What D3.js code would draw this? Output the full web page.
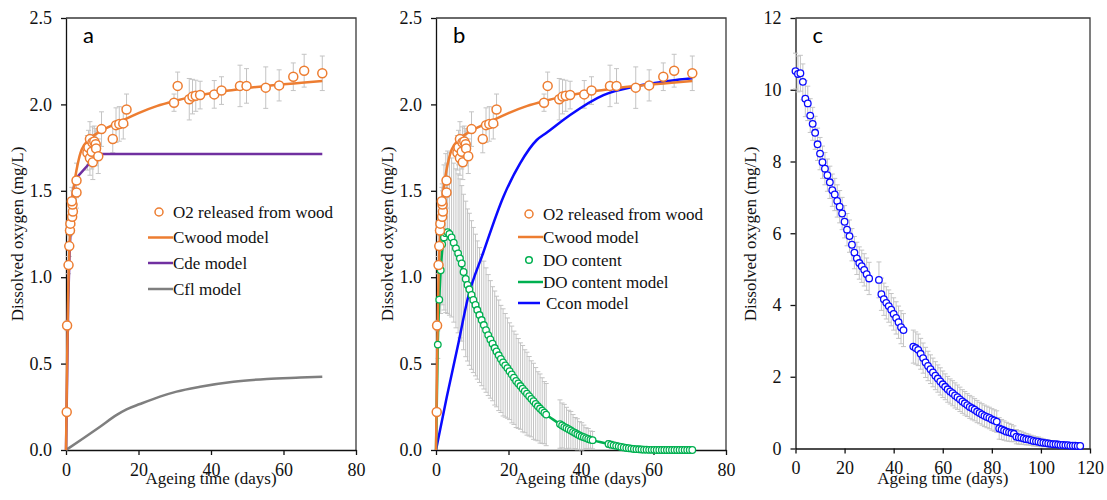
<!DOCTYPE html>
<html><head><meta charset="utf-8">
<script src="https://cdn.jsdelivr.net/npm/d3@7"></script>
<style>body{margin:0;background:#fff}svg{display:block;background:#fff}
.serif{font-family:"Liberation Serif","Times New Roman","DejaVu Serif",serif}
.sans{font-family:Lato,"Open Sans",sans-serif}</style>
</head><body><svg id="chart" width="1107" height="500"></svg>
<script>
// ---------- DATA ----------
// O2 released from wood: [day, mg/L, error]
const o2Released = [
 [0.2,0.22,0.0],[0.3,0.72,0.03],[0.7,1.07,0.05],[0.9,1.18,0.06],[1.1,1.27,0.07],[1.2,1.31,0.07],
 [1.7,1.35,0.08],[1.9,1.38,0.08],[1.8,1.42,0.08],[1.6,1.44,0.08],[2.9,1.49,0.09],[2.9,1.56,0.1],
 [5.9,1.72,0.1],[6.2,1.75,0.1],[6.6,1.80,0.1],[6.6,1.69,0.1],[7.1,1.726,0.1],[7.3,1.78,0.09],
 [7.4,1.665,0.1],[7.8,1.785,0.09],[8.2,1.77,0.09],[8.3,1.745,0.1],[8.9,1.70,0.1],[9.8,1.857,0.1],
 [12.9,1.80,0.08],[13.8,1.88,0.1],[14.7,1.887,0.1],[15.8,1.89,0.09],[16.7,1.97,0.09],
 [29.8,2.01,0.05],[30.8,2.107,0.08],[34.0,2.03,0.12],[34.9,2.045,0.1],[35.8,2.05,0.09],
 [37.0,2.054,0.08],[40.9,2.058,0.08],[42.9,2.08,0.08],[48.0,2.107,0.12],[49.8,2.107,0.1],
 [55.1,2.097,0.12],[58.8,2.11,0.09],[62.7,2.16,0.08],[65.7,2.195,0.095],[70.7,2.18,0.1]
];
const cwoodModel = [[0,0],[0.3,0.5],[0.6,0.9],[1,1.2],[1.5,1.38],[2,1.5],[3,1.63],[4,1.72],[5,1.765],
 [6,1.79],[8,1.825],[10,1.85],[15,1.9],[20,1.95],[25,1.99],[30,2.02],[35,2.045],[40,2.065],[45,2.08],
 [50,2.095],[55,2.107],[60,2.117],[65,2.125],[70.7,2.135]];
const cdeModel = [[0,0],[0.3,0.4],[0.6,0.85],[1,1.15],[1.5,1.38],[2,1.5],[2.7,1.57],[8.8,1.713],[70.7,1.713]];
const cflModel = [[0,0],[4.8,0.068],[9.4,0.135],[14,0.203],[16.7,0.235],[20.4,0.266],[25.9,0.309],
 [30.5,0.338],[37,0.366],[46.2,0.395],[55.4,0.411],[64.6,0.419],[70.7,0.424]];
// DO content: [day, mg/L, error]
const doContent = [
 [0.2,0.22,0.02],[0.5,0.61,0.08],[0.9,0.87,0.15],[1.3,1.04,0.25],[1.7,1.19,0.35],[2.2,1.23,0.42],
 [2.7,1.255,0.46],[3.2,1.26,0.47],[3.7,1.25,0.47],[4.3,1.23,0.46],[4.9,1.2,0.46],[5.5,1.167,0.46],
 [6.1,1.138,0.46],[6.6,1.109,0.46],[7.1,1.08,0.45],[7.6,1.03,0.45],[8.2,0.99,0.45],[8.7,0.955,0.44],
 [9.2,0.93,0.44],[9.8,0.897,0.43],[10.3,0.868,0.42],[10.9,0.839,0.41],[11.4,0.81,0.4],[12.0,0.781,0.39],
 [12.6,0.752,0.38],[13.2,0.723,0.37],[13.8,0.694,0.36],[14.4,0.665,0.35],[15.0,0.64,0.34],[15.6,0.615,0.33],
 [16.2,0.59,0.33],[16.7,0.57,0.32],[17.3,0.548,0.32],[17.9,0.527,0.31],[18.5,0.507,0.31],[19.1,0.49,0.3],
 [19.7,0.474,0.29],[20.3,0.456,0.28],[20.9,0.437,0.28],[21.5,0.418,0.27],[22.1,0.4,0.27],[22.7,0.385,0.26],
 [23.3,0.37,0.25],[23.9,0.355,0.25],[24.5,0.34,0.24],[25.1,0.326,0.24],[25.7,0.311,0.23],[26.3,0.296,0.22],
 [26.9,0.282,0.22],[27.5,0.267,0.21],[28.1,0.253,0.2],[28.7,0.24,0.2],[29.3,0.228,0.19],[29.9,0.216,0.18],
 [30.4,0.205,0.18],
 [34.2,0.15,0.14],[34.8,0.142,0.13],[35.4,0.134,0.13],[36.0,0.127,0.12],[36.6,0.12,0.11],[37.2,0.113,0.11],
 [37.8,0.105,0.1],[38.4,0.098,0.09],[39.0,0.091,0.09],[39.6,0.084,0.08],[40.2,0.078,0.08],[40.8,0.074,0.07],
 [41.4,0.069,0.06],[42.0,0.064,0.06],[42.6,0.06,0.05],[43.2,0.057,0.05],
 [47.6,0.035,0.02],[48.3,0.031,0.02],[49.0,0.027,0.02],[49.7,0.024,0.02],[50.4,0.021,0.015],[51.1,0.018,0.015],
 [51.8,0.015,0.01],[52.5,0.012,0.01],[53.2,0.01,0.01],[53.9,0.008,0.01],[54.6,0.006,0.005],[55.3,0.005,0.005],
 [56.0,0.004,0.005],[56.7,0.003,0.005],[57.4,0.002,0.0],[58.1,0.002,0.0],[58.8,0.001,0.0],[59.5,0.001,0.0],
 [60.2,0.001,0.0],[60.9,0,0],[61.6,0,0],[62.3,0,0],[63.0,0,0],[63.7,0,0],[64.4,0,0],[65.1,0,0],[65.8,0,0],
 [66.5,0,0],[67.2,0,0],[67.9,0,0],[68.6,0,0],[69.3,0,0],[70.0,0,0],[70.7,0,0]
];
const doModel = [[0,0],[0.5,0.62],[1,0.92],[1.5,1.1],[2,1.2],[3,1.26],[4,1.24],[6,1.14],[8,0.99],[10,0.88],
 [14,0.7],[18,0.52],[22,0.4],[26,0.3],[30.4,0.205],[34.2,0.15],[38,0.1],[43.2,0.057],[47.6,0.035],
 [52,0.013],[56,0.004],[60,0.001],[70.7,0]];
const cconModel = [[0,0],[3,0.31],[6,0.6],[8.8,0.88],[13,1.14],[18.6,1.466],[23.2,1.659],[27.8,1.794],
 [30.5,1.836],[37,1.939],[46.2,2.054],[55.4,2.106],[64.6,2.137],[70.7,2.151]];
// Panel c: [day, mg/L, error]
const doDecline = [
 [0,10.52,0.5],[1,10.44,0.5],[2,10.46,0.5],[3,10.22,0.5],[4,9.75,0.5],[5,9.62,0.48],[6,9.28,0.47],[7,9.05,0.46],
 [8,8.8,0.46],[9,8.48,0.45],[10,8.22,0.45],[11,7.98,0.45],[12,7.8,0.45],[13,7.62,0.45],[14,7.42,0.45],
 [15,7.2,0.45],[16,7.08,0.45],[17,6.9,0.45],[18,6.74,0.45],[19,6.55,0.45],[20,6.32,0.45],[21,6.1,0.45],
 [22,5.92,0.45],[23,5.68,0.45],[24,5.46,0.45],[25,5.3,0.45],[26,5.17,0.45],[27,5.08,0.45],[28,4.98,0.45],
 [29,4.86,0.45],[30,4.74,0.45],
 [34,4.7,0.5],[35,4.3,0.45],[36,4.16,0.45],[37,4.06,0.45],[38,3.97,0.45],[39,3.87,0.45],[40,3.75,0.45],
 [41,3.64,0.45],[42,3.52,0.45],[43,3.38,0.46],[44,3.3,0.46],
 [48,2.84,0.46],[49,2.8,0.45],[50,2.75,0.44],[51,2.64,0.43],[52,2.52,0.42],[53,2.4,0.42],[54,2.3,0.41],
 [55,2.21,0.4],[56,2.12,0.4],[57,2.03,0.39],[58,1.95,0.38],[59,1.87,0.38],[60,1.79,0.37],[61,1.72,0.36],
 [62,1.65,0.36],[63,1.59,0.35],[64,1.54,0.35],[65,1.48,0.35],[66,1.43,0.34],[67,1.37,0.34],[68,1.31,0.33],
 [69,1.26,0.33],[70,1.21,0.32],[71,1.16,0.32],[72,1.12,0.32],[73,1.08,0.31],[74,1.03,0.31],[75,0.99,0.3],
 [76,0.95,0.3],[77,0.91,0.3],[78,0.88,0.3],[79,0.85,0.3],[80,0.81,0.3],[81,0.78,0.3],[82,0.75,0.3],
 [83,0.56,0.3],[84,0.53,0.28],[85,0.5,0.27],[86,0.47,0.26],[87,0.45,0.25],[88,0.43,0.24],[89,0.41,0.22],
 [90,0.33,0.2],[91,0.31,0.19],[92,0.3,0.18],[93,0.28,0.17],[94,0.26,0.16],[95,0.25,0.15],[96,0.23,0.14],
 [97,0.21,0.14],[98,0.2,0.13],[99,0.19,0.13],[100,0.17,0.12],[101,0.16,0.11],[102,0.15,0.1],[103,0.14,0.1],
 [104,0.13,0.09],[105,0.12,0.08],[106,0.12,0.08],[107,0.11,0.07],[108,0.1,0.07],[109,0.1,0.06],[110,0.09,0.06],
 [111,0.09,0.05],[112,0.08,0.05],[113,0.08,0.05],[114,0.08,0.04],[115,0.07,0.04],[116,0.07,0.04]
];
const ticksAB_y = [0, 0.5, 1.0, 1.5, 2.0, 2.5];
const ticksAB_x = [0, 20, 40, 60, 80];
const ticksC_y = [0, 2, 4, 6, 8, 10, 12];
const ticksC_x = [0, 20, 40, 60, 80, 100, 120];
const xTitle = "Ageing time (days)";
const yTitle = "Dissolved oxygen (mg/L)";

// ---------- STYLE ----------
const COL = {orange:"#ed7d31", purple:"#7030a0", gray:"#7f7f7f", green:"#00b050", blue:"#0a0aff", err:"#c4c4c4"};
const SERIF = '"Liberation Serif","Times New Roman","DejaVu Serif",serif';
const svg = d3.select("#chart");

function makePanel(o) {
  const x = d3.scaleLinear().domain(o.xDom).range(o.xR);
  const y = d3.scaleLinear().domain(o.yDom).range(o.yR);
  const g = svg.append("g");
  g.append("path").attr("d", `M${o.xR[0]},${o.yR[1]}H${o.xR[1]}V${o.yR[0]}`)
   .attr("fill","none").attr("stroke","#3a3a3a").attr("stroke-width",1.3);
  const ax = g.append("g").attr("transform",`translate(0,${o.yR[0]})`)
   .call(d3.axisBottom(x).tickValues(o.xTicks).tickFormat(d3.format("d")).tickSize(5).tickSizeOuter(0).tickPadding(8));
  const ay = g.append("g").attr("transform",`translate(${o.xR[0]},0)`)
   .call(d3.axisLeft(y).tickValues(o.yTicks).tickFormat(o.yFmt).tickSize(5).tickSizeOuter(0).tickPadding(9));
  [ax, ay].forEach(a => {
    a.attr("font-family", null).attr("font-size", null);
    a.selectAll("text").attr("class","serif").style("font-family", SERIF).style("font-size","18px").attr("fill","#111");
    a.selectAll("path,line").attr("stroke","#111").attr("stroke-width",1.3);
  });
  g.append("text").attr("class","serif").attr("x",(o.xR[0]+o.xR[1])/2).attr("y",484).attr("text-anchor","middle")
   .style("font-family",SERIF).style("font-size","17px").attr("fill","#111").text(xTitle);
  g.append("text").attr("class","serif").attr("transform",`translate(${o.yTitleX},234) rotate(-90)`).attr("text-anchor","middle")
   .style("font-family",SERIF).style("font-size","17px").attr("fill","#111").text(yTitle);
  g.append("text").attr("class","sans").attr("x",o.xR[0]+17).attr("y",43)
   .style("font-size","22px").attr("fill","#000").text(o.letter);
  return {g, x, y};
}

function errorBars(p, data, cap) {
  const eg = p.g.append("g").attr("stroke", COL.err).attr("stroke-width",1).attr("fill","none");
  data.filter(d => d[2] > 0).forEach(d => {
    const xx = p.x(d[0]), y1 = p.y(Math.max(0, d[1]-d[2])), y2 = p.y(d[1]+d[2]);
    eg.append("path").attr("d", `M${xx},${y1}V${y2}M${xx-cap},${y1}H${xx+cap}M${xx-cap},${y2}H${xx+cap}`);
  });
}
function line(p, data, color, w, curve) {
  p.g.append("path").datum(data).attr("fill","none").attr("stroke",color).attr("stroke-width",w)
   .attr("stroke-linejoin","round")
   .attr("d", d3.line().x(d=>p.x(d[0])).y(d=>p.y(d[1])).curve(curve || d3.curveLinear));
}
function dots(p, data, color, r, sw) {
  p.g.append("g").selectAll("circle").data(data).join("circle")
   .attr("cx", d=>p.x(d[0])).attr("cy", d=>p.y(d[1])).attr("r", r)
   .attr("fill","#fff").attr("stroke",color).attr("stroke-width",sw);
}
function legend(p, items, x0, textX) {
  items.forEach(it => {
    const g = p.g.append("g");
    if (it.type === "dot") g.append("circle").attr("cx", x0).attr("cy", it.y).attr("r", it.r||4)
      .attr("fill","#fff").attr("stroke", it.color).attr("stroke-width",1.5);
    else g.append("line").attr("x1", it.x1).attr("x2", it.x2).attr("y1", it.y).attr("y2", it.y)
      .attr("stroke", it.color).attr("stroke-width", 2.5);
    g.append("text").attr("class","serif").attr("x", it.tx || textX).attr("y", it.y).attr("dy","0.35em")
     .style("font-family",SERIF).style("font-size","17px").attr("fill","#111").text(it.label);
  });
}

// ---------- PANEL A ----------
const pa = makePanel({xDom:[0,80], xR:[66,356], yDom:[0,2.5], yR:[450,18], xTicks:ticksAB_x, yTicks:ticksAB_y,
  yFmt:d3.format(".1f"), yTitleX:23, letter:"a"});
errorBars(pa, o2Released, 2.5);
line(pa, cflModel, COL.gray, 2.5, d3.curveMonotoneX);
line(pa, cdeModel, COL.purple, 2.5);
line(pa, cwoodModel, COL.orange, 2.5, d3.curveMonotoneX);
dots(pa, o2Released, COL.orange, 4.5, 1.5);
legend(pa, [
  {type:"dot", color:COL.orange, y:212, label:"O2 released from wood"},
  {type:"line", color:COL.orange, x1:148, x2:173, y:237.5, label:"Cwood model"},
  {type:"line", color:COL.purple, x1:148, x2:173, y:263, label:"Cde model"},
  {type:"line", color:COL.gray, x1:148, x2:173, y:289, label:"Cfl model"}
], 159, 173);

// ---------- PANEL B ----------
const pb = makePanel({xDom:[0,80], xR:[436,726], yDom:[0,2.5], yR:[450,18], xTicks:ticksAB_x, yTicks:ticksAB_y,
  yFmt:d3.format(".1f"), yTitleX:393, letter:"b"});
errorBars(pb, doContent, 2.5);
errorBars(pb, o2Released, 2.5);
line(pb, cconModel, COL.blue, 2.5, d3.curveMonotoneX);
line(pb, doModel, COL.green, 2.5, d3.curveMonotoneX);
line(pb, cwoodModel, COL.orange, 2.5, d3.curveMonotoneX);
dots(pb, doContent, COL.green, 3.3, 1.3);
dots(pb, o2Released, COL.orange, 4.5, 1.5);
legend(pb, [
  {type:"dot", color:COL.orange, y:214, label:"O2 released from wood"},
  {type:"line", color:COL.orange, x1:518, x2:543, y:237, label:"Cwood model"},
  {type:"dot", color:COL.green, y:260, r:3.3, label:"DO content"},
  {type:"line", color:COL.green, x1:518, x2:543, y:282, label:"DO content model"},
  {type:"line", color:COL.blue, x1:518, x2:540, y:303, tx:546, label:"Ccon model"}
], 529, 543);

// ---------- PANEL C ----------
const pc = makePanel({xDom:[0,120], xR:[795.5,1090], yDom:[0,12], yR:[448.5,18], xTicks:ticksC_x, yTicks:ticksC_y,
  yFmt:d3.format("d"), yTitleX:756, letter:"c"});
errorBars(pc, doDecline, 2.5);
dots(pc, doDecline, COL.blue, 3.3, 1.3);
</script></body></html>
